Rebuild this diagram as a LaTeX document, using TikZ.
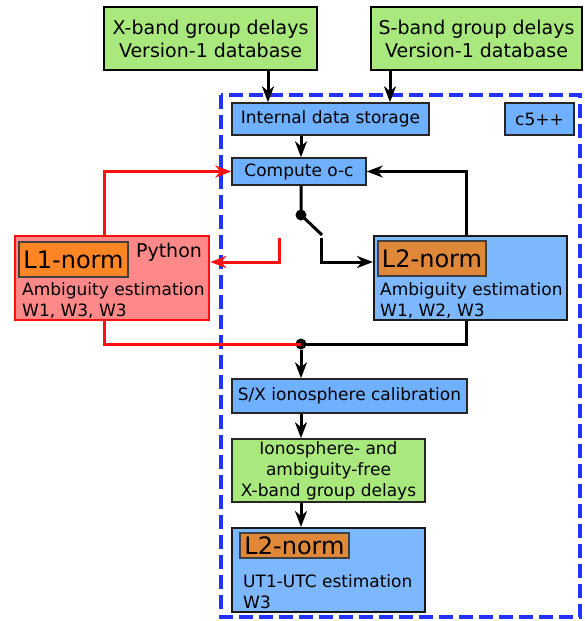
\documentclass[tikz,border=0pt]{standalone}
\usepackage{fontspec}
\setmainfont{DejaVu Sans}
\usetikzlibrary{arrows.meta}
\definecolor{bandgreen}{HTML}{A8E87C}
\definecolor{boxblue}{HTML}{6FB0FF}
\definecolor{normorange}{HTML}{E0883A}
\definecolor{loneorange}{HTML}{FF8525}
\definecolor{pypink}{HTML}{FF8888}
\definecolor{frameblue}{HTML}{2233FF}
\definecolor{wirered}{HTML}{FF1010}
\begin{document}
\begin{tikzpicture}[x=1pt,y=-1pt,>={Stealth[length=16pt,width=12pt,inset=5pt]},
    box/.style={draw=black!85,line width=1.5pt,inner sep=0pt,align=center,
        font=\fontsize{17}{21}\selectfont},
    band/.style={box,fill=bandgreen,draw=black,line width=2pt,
        font=\fontsize{19}{23}\selectfont},
    tag/.style={draw=black!75,line width=1.5pt,inner sep=0pt,
        font=\fontsize{24}{24}\selectfont},
    txt/.style={anchor=north west,align=left,inner sep=0pt,
        font=\fontsize{17}{21}\selectfont},
    dot/.style={circle,fill=black,inner sep=0pt,minimum size=11pt},
    wire/.style={line width=3pt},
    redwire/.style={wirered,line width=3pt}]
    \useasboundingbox (0,0) rectangle (584,621);

    % c5++ frame
    \draw[frameblue,line width=4.5pt,dash pattern=on 14pt off 6pt] (221,95) rectangle (580,617);

    % inputs
    \node[band,minimum width=213,minimum height=63] (xband) at (210.5,38.5)
        {X-band group delays\\Version-1 database};
    \node[band,minimum width=211,minimum height=63] (sband) at (476.5,38.5)
        {S-band group delays\\Version-1 database};

    % blocks inside c5++
    \node[box,fill=boxblue,minimum width=197,minimum height=32] (store) at (330.5,119)
        {Internal data storage};
    \node[box,fill=boxblue,minimum width=69,minimum height=32] (cpp) at (539.5,119) {c5++};
    \node[box,fill=boxblue,minimum width=134,minimum height=27] (oc) at (299,171.5)
        {Compute o-c};
    \node[box,fill=boxblue!90!white,draw=black!90,line width=2pt,
        minimum width=193,minimum height=84] (ltwo) at (470.5,278) {};
    \node[tag,fill=normorange,minimum width=108,minimum height=35] (ltwotag) at (432,258.5) {L2-norm};
    \node[txt] (ltwotxt) at (380,282) {Ambiguity estimation\\W1, W2, W3};
    \node[box,fill=boxblue,minimum width=235,minimum height=34] (sx) at (349.5,396)
        {S/X ionosphere calibration};
    \node[box,fill=bandgreen,minimum width=193,minimum height=63] (free) at (328.5,470.5)
        {Ionosphere- and\\ambiguity-free\\X-band group delays};
    \node[box,fill=boxblue!90!white,draw=black!90,line width=2pt,
        minimum width=193,minimum height=84] (ut) at (328.5,570) {};
    \node[tag,fill=normorange,minimum width=109,minimum height=25] (uttag) at (294.5,545.5) {L2-norm};
    \node[txt] (uttxt) at (243,574) {UT1-UTC estimation\\W3};

    % Python block
    \node[box,fill=pypink,draw=wirered,line width=2.5pt,
        minimum width=194,minimum height=84] (lone) at (112,278) {};
    \node[tag,fill=loneorange,minimum width=109,minimum height=35] (lonetag) at (73.5,259.5) {L1-norm};
    \node[font=\fontsize{19}{19}\selectfont,inner sep=0pt] (py) at (169,252) {Python};
    \node[txt] (lonetxt) at (22,282) {Ambiguity estimation\\W1, W3, W3};

    % switch
    \coordinate (trunk) at (301,0);
    \node[dot] (sw) at (301,215) {};
    \coordinate (swend) at (322,235);
    \coordinate (swblack) at (321,238);
    \coordinate (swred) at (279,238);
    \node[dot] (join) at (301,344) {};

    % connectors
    \draw[wire,->] ([xshift=57.5pt]xband.south) -- ([xshift=57.5pt]xband.south |- store.north);
    \draw[wire,->] ([xshift=-86.5pt]sband.south) -- ([xshift=-86.5pt]sband.south |- store.north);
    \draw[wire,->] (trunk |- store.south) -- (trunk |- oc.north);
    \draw[wire] (trunk |- oc.south) -- (sw.center) -- (swend);
    \draw[wire,->] (swblack) |- ([yshift=16pt]ltwo.west);
    \draw[redwire,->] (swred) |- ([yshift=16pt]lone.east);
    \draw[wire,->] ([xshift=-4.5pt]ltwo.north) |- (oc.east);
    \draw[redwire,->] ([xshift=-8pt]lone.north) |- (oc.west);
    \draw[redwire] ([xshift=-8pt]lone.south) |- (join.center);
    \draw[wire] ([xshift=-4.5pt]ltwo.south) |- (join.center);
    \draw[wire,->] (join) -- (join |- sx.north);
    \draw[wire,->] (trunk |- sx.south) -- (trunk |- free.north);
    \draw[wire,->] (trunk |- free.south) -- (trunk |- ut.north);
\end{tikzpicture}
\end{document}
